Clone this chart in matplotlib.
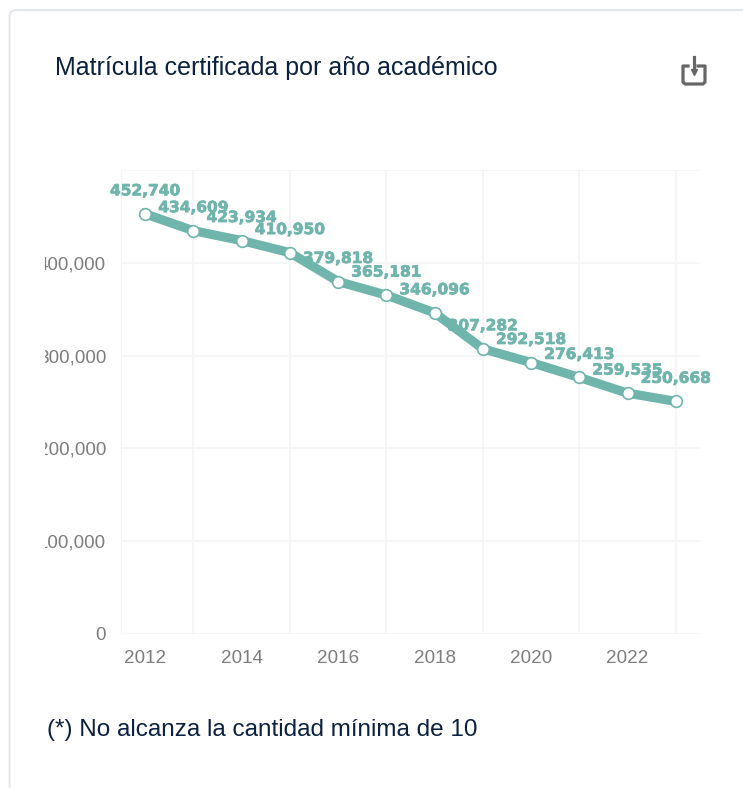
import matplotlib
matplotlib.use('Agg')
import matplotlib.pyplot as plt
import matplotlib.patheffects as pe
from matplotlib.patches import FancyBboxPatch
from matplotlib.transforms import Bbox

plt.rcParams['font.family'] = ['Liberation Sans', 'DejaVu Sans']

years = [2012, 2013, 2014, 2015, 2016, 2017, 2018, 2019, 2020, 2021, 2022, 2023]
matricula = [452740, 434609, 423934, 410950, 379818, 365181, 346096, 307282, 292518, 276413, 259535, 250668]
y_ticks = [0, 100000, 200000, 300000, 400000, 500000]
y_labels = ['0', '100,000', '200,000', '300,000', '400,000', '']
x_labels = ['2012', '', '2014', '', '2016', '', '2018', '', '2020', '', '2022', '']

W, H = 743, 788
TEAL = '#70b5ac'
NAVY = '#0c2040'
GRAY = '#7d7d7d'
GRID = '#f5f6f8'

fig = plt.figure(figsize=(W / 100, H / 100), dpi=100)

# overlay in pixel coordinates for the card, titles and icon
bg = fig.add_axes([0, 0, 1, 1])
bg.set_xlim(0, W)
bg.set_ylim(H, 0)
bg.axis('off')
bg.add_patch(FancyBboxPatch((9.5, 10), 800, 900, boxstyle='round,pad=0,rounding_size=7',
                            fc='white', ec='#e4e6ee', lw=1.4))
bg.text(55, 68, 'Matrícula certificada por año académico', fontsize=18.0,
        color=NAVY, va='center', ha='left')
bg.text(47, 730, '(*) No alcanza la cantidad mínima de 10', fontsize=17.45,
        color=NAVY, va='center', ha='left')

# download icon
bg.plot([688, 683, 683, 685, 703, 705, 705, 698],
        [66, 66, 82, 84, 84, 82, 66, 66], color='#666666', lw=2.3, solid_joinstyle='round')
bg.plot([693.5, 693.5], [57, 72], color='#666666', lw=2.3)
bg.plot([693.5], [72], marker='v', ms=5, color='#666666')

ax = fig.add_axes([121 / W, 1 - 634 / H, (700 - 121) / W, (634 - 170) / H])
ax.patch.set_alpha(0)
ax.set_xlim(2011.5, 2023.5)
ax.set_ylim(0, 500000)
for s in ax.spines.values():
    s.set_visible(False)

ax.plot(years, matricula, color=TEAL, lw=6.6, zorder=3, solid_joinstyle='round',
        marker='o', ms=8.4, mfc='white', mec=TEAL, mew=1.2)

for yr, val in zip(years, matricula):
    ax.annotate(f'{val:,}', (yr, val), xytext=(0, 16.6), textcoords='offset points',
                ha='center', va='center', color=TEAL, fontsize=11.1, fontweight='bold',
                family='DejaVu Sans', zorder=4,
                path_effects=[pe.withStroke(linewidth=0.5, foreground=TEAL)])

ax.set_yticks(y_ticks)
ax.set_yticklabels(y_labels)
ax.set_xticks(years)
ax.set_xticklabels(x_labels)
ax.tick_params(axis='both', length=0, labelsize=13.6, labelcolor=GRAY)
ax.tick_params(axis='y', pad=10.7)
ax.tick_params(axis='x', pad=11.5)

# horizontal grid plus the left edge; vertical lines on the odd years only
ax.grid(axis='y', color=GRID, lw=1.3, zorder=0)
for yr in [2011.5] + years[1::2]:
    ax.axvline(yr, color=GRID, lw=1.3, zorder=0)

# y labels are cut off by the container on the left
clip = Bbox([[44.5, 0], [W, H]])
for lab in ax.get_yticklabels():
    lab.set_clip_box(clip)
    lab.set_clip_on(True)

fig.savefig('out.png', dpi=100)
